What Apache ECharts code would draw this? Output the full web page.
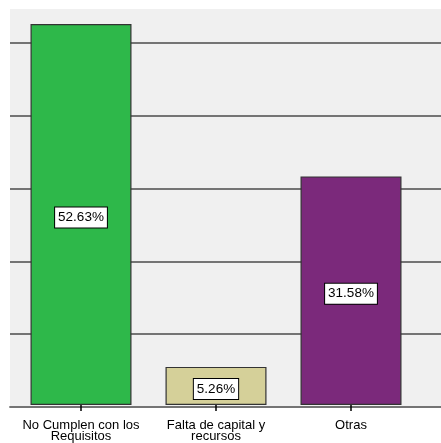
<!DOCTYPE html>
<html>
<head>
<meta charset="utf-8">
<script src="https://cdn.jsdelivr.net/npm/echarts@6/dist/echarts.min.js"></script>
<style>
html,body{margin:0;padding:0;background:#fff;}
#c{width:441px;height:443px;}
</style>
</head>
<body>
<div id="c"></div>
<script>
const categories = ['No Cumplen con los\nRequisitos', 'Falta de capital y\nrecursos', 'Otras'];
const values = [52.63, 5.26, 31.58];
const barColors = ['#2eb84a', '#d5d099', '#7b297b'];
const yMin = 0, yMax = 54.7, yInterval = 10;

const FONT = '"Liberation Sans", Arial, sans-serif';
const chart = echarts.init(document.getElementById('c'), null, {renderer: 'canvas'});
chart.setOption({
  animation: false,
  backgroundColor: '#ffffff',
  grid: [
    {left: 10, right: 0, top: 9, bottom: 36.3, show: true, backgroundColor: '#f0f0f0', borderWidth: 0},
    {left: 13.5, width: 405, top: 9, bottom: 36.3}
  ],
  xAxis: [
    {gridIndex: 0, type: 'value', min: 0, max: 1,
     axisLine: {show: true, onZero: false, lineStyle: {color: '#747474', width: 1.8}},
     axisTick: {show: false}, axisLabel: {show: false}, splitLine: {show: false}},
    {gridIndex: 1, type: 'category', data: categories,
     axisLine: {show: false},
     axisTick: {show: true, alignWithLabel: true, length: 6, lineStyle: {color: '#000', width: 1.5}},
     axisLabel: {margin: 15, color: '#000', fontSize: 13, fontFamily: FONT, lineHeight: 11, interval: 0}}
  ],
  yAxis: [
    {gridIndex: 0, type: 'value', min: yMin, max: yMax, interval: yInterval,
     axisLine: {show: false}, axisTick: {show: false}, axisLabel: {show: false},
     splitLine: {show: true, showMinLine: false, showMaxLine: false, lineStyle: {color: '#747474', width: 1.8}}},
    {gridIndex: 1, type: 'value', min: yMin, max: yMax, interval: yInterval, show: false, splitLine: {show: false}}
  ],
  series: [{
    type: 'bar',
    xAxisIndex: 1, yAxisIndex: 1,
    barWidth: 101,
    data: values.map((v, i) => ({value: v, itemStyle: {color: barColors[i]}})),
    itemStyle: {borderColor: '#333', borderWidth: 1.2},
    label: {
      show: true, position: 'inside', offset: [0, 3],
      formatter: p => p.value.toFixed(2) + '%',
      color: '#000', fontSize: 13.5, fontFamily: FONT,
      backgroundColor: '#fff', borderColor: '#000', borderWidth: 1,
      padding: [4, 3, 3, 3], lineHeight: 13
    }
  }]
});
</script>
</body>
</html>
